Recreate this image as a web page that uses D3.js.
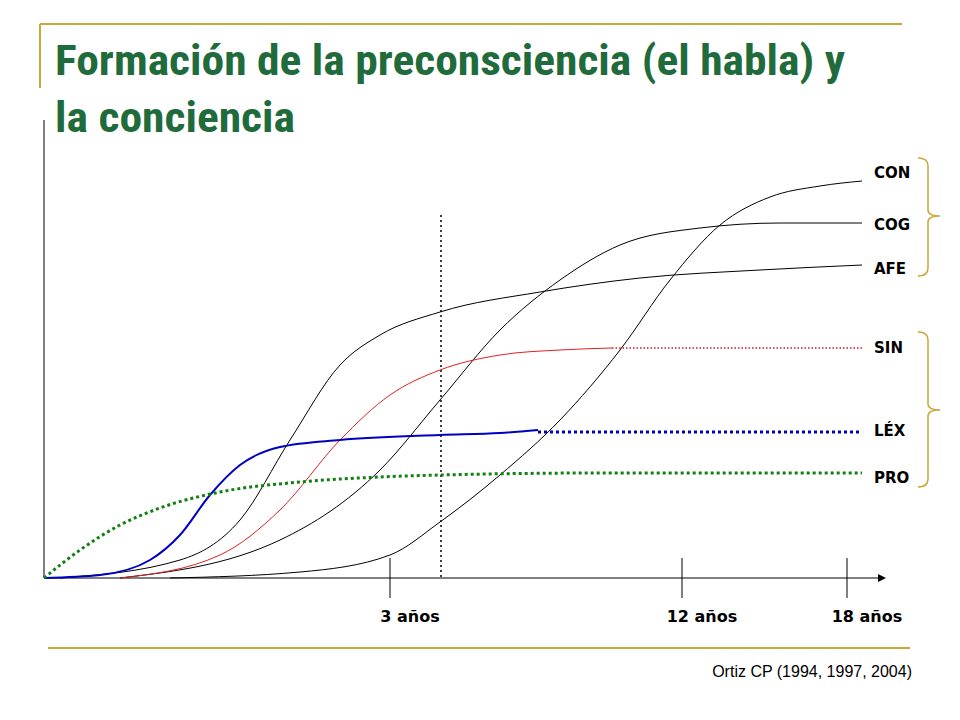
<!DOCTYPE html>
<html><head><meta charset="utf-8">
<script src="https://cdn.jsdelivr.net/npm/d3@7"></script>
<style>body{margin:0;background:#fff}</style>
</head><body>
<svg id="c" width="960" height="720"></svg>
<script>
// curve points, in chart units (x: 0..820 from the origin, y: 0..420 up)
const CON = [[126,0],[256,6],[346,23],[396,56],[456,103],[516,158],[576,228],[626,298],[676,353],[726,381],[776,392],[818,397]];
const COG = [[76,0],[236,38],[336,108],[396,178],[456,248],[516,298],[576,333],[656,350],[736,355],[818,355]];
const AFE = [[16,0],[136,18],[196,58],[246,138],[296,213],[336,243],[396,266],[496,286],[596,300],[716,308],[818,313]];
const SIN = [[76,0],[176,23],[236,68],[296,138],[346,183],[396,208],[456,223],[516,228],[568,230]];
const SIN_DOT = [[568,230],[818,230]];
const LEX = [[0,0],[56,3],[106,18],[136,43],[166,83],[196,113],[236,131],[296,138],[396,143],[456,145],[494,148]];
const LEX_DOT = [[494,146],[818,146]];
const PRO = [[0,0],[36,28],[76,53],[116,70],[176,86],[256,96],[336,101],[396,103],[556,105],[818,105]];
const labels = [["CON",406],["COG",354],["AFE",310],["SIN",231],["LÉX",148],["PRO",101]];
const ticks = [[346,"3 años"],[638,"12 años"],[803,"18 años"]];
const marker = 397;

const svg = d3.select("#c");
const x = d3.scaleLinear().domain([0,820]).range([44,864]);
const y = d3.scaleLinear().domain([0,420]).range([578,158]);
const gold = "#c8a838";

// header
svg.append("line").attr("x1",40).attr("x2",902).attr("y1",24).attr("y2",24).attr("stroke",gold).attr("stroke-width",2);
svg.append("line").attr("x1",40).attr("x2",40).attr("y1",24).attr("y2",88).attr("stroke",gold).attr("stroke-width",2);
const title = svg.append("text").attr("font-family","'Liberation Sans Narrow','Roboto Condensed',sans-serif")
  .attr("font-weight","bold").attr("font-size",42).attr("fill","#1f6b3b");
title.append("tspan").attr("x",55).attr("y",75).attr("textLength",790).attr("lengthAdjust","spacingAndGlyphs")
  .text("Formación de la preconsciencia (el habla) y");
title.append("tspan").attr("x",55).attr("y",132).attr("textLength",240).attr("lengthAdjust","spacingAndGlyphs")
  .text("la conciencia");

// axes
svg.append("line").attr("x1",44).attr("x2",44).attr("y1",120).attr("y2",578).attr("stroke","#000");
svg.append("line").attr("x1",44).attr("x2",878).attr("y1",578).attr("y2",578).attr("stroke","#000");
svg.append("path").attr("d","M878,574 L886,578 L878,582 Z").attr("fill","#000");
ticks.forEach(([v,t]) => {
  svg.append("line").attr("x1",x(v)).attr("x2",x(v)).attr("y1",558).attr("y2",598).attr("stroke","#000");
  svg.append("text").attr("x",x(v)+20).attr("y",622).attr("text-anchor","middle")
    .attr("font-family","DejaVu Sans,sans-serif").attr("font-weight","bold").attr("font-size",16).text(t);
});
svg.append("line").attr("x1",x(marker)).attr("x2",x(marker)).attr("y1",215).attr("y2",580)
  .attr("stroke","#000").attr("stroke-width",1.5).attr("stroke-dasharray","2,3");

const line = d3.line().x(d => x(d[0])).y(d => y(d[1])).curve(d3.curveMonotoneX);
function draw(data, color, w, dash) {
  svg.append("path").attr("d", line(data)).attr("fill","none").attr("stroke",color)
    .attr("stroke-width",w).attr("stroke-dasharray",dash || null);
}
draw(CON,"#000",1);
draw(COG,"#000",1);
draw(AFE,"#000",1);
draw(SIN,"#e02020",1);
draw(SIN_DOT,"#c02020",1.5,"1.5,2");
draw(LEX,"#0000c0",2);
draw(LEX_DOT,"#0000c0",3,"3,3");
draw(PRO,"#108010",3,"3,3");

labels.forEach(([t,v]) => {
  svg.append("text").attr("x",874).attr("y",y(v)+6).attr("font-family","DejaVu Sans,sans-serif")
    .attr("font-weight","bold").attr("font-size",15).text(t);
});
// braces
function brace(y1,y2,ym){
  svg.append("path").attr("d",`M918,${y1} Q928,${y1} 928,${y1+8} L928,${ym-6} Q928,${ym} 940,${ym} Q928,${ym} 928,${ym+6} L928,${y2-8} Q928,${y2} 918,${y2}`)
    .attr("fill","none").attr("stroke",gold).attr("stroke-width",1.5);
}
brace(158,276,216);
brace(332,487,410);

// footer
svg.append("line").attr("x1",48).attr("x2",910).attr("y1",648).attr("y2",648).attr("stroke",gold).attr("stroke-width",2);
svg.append("text").attr("x",912).attr("y",677).attr("text-anchor","end").attr("font-family","Liberation Sans,Arial,sans-serif")
  .attr("font-size",16).text("Ortiz CP (1994, 1997, 2004)");
</script>
</body></html>
